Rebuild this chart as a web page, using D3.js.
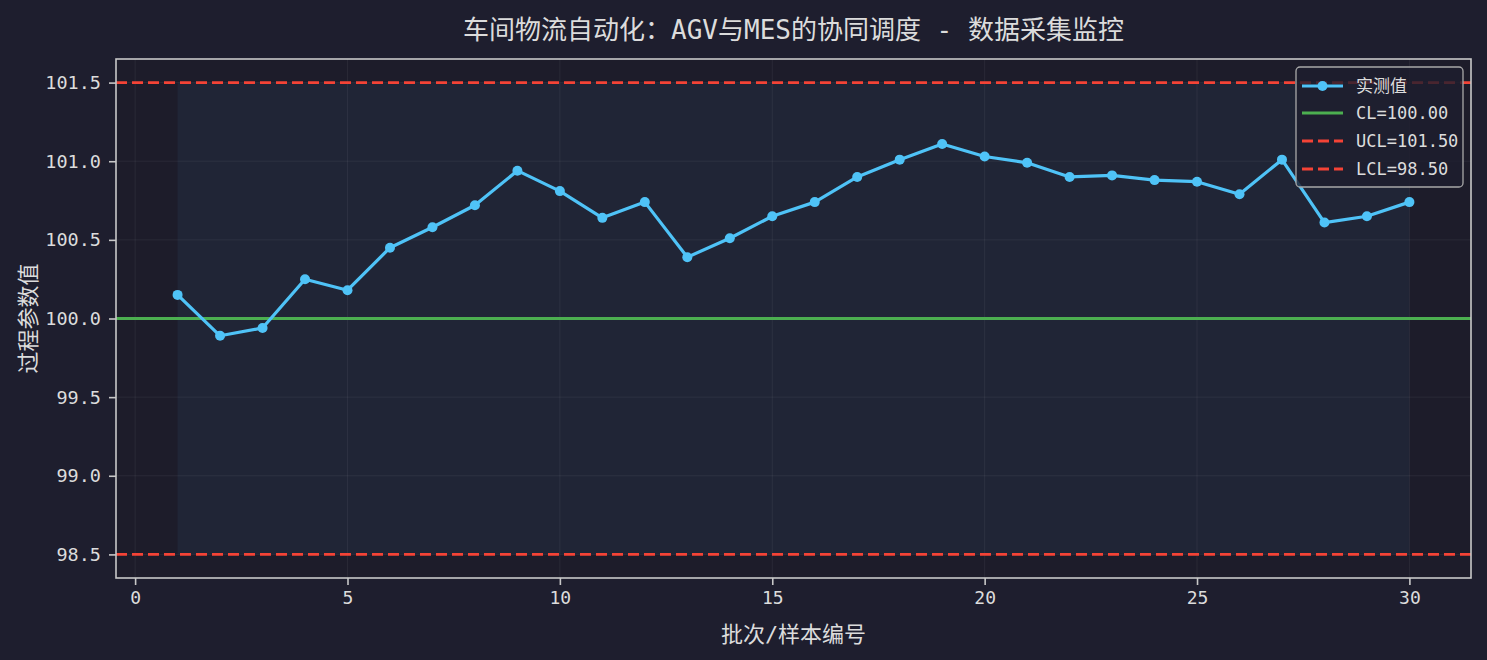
<!DOCTYPE html>
<html>
<head>
<meta charset="utf-8">
<script src="https://cdn.jsdelivr.net/npm/d3@7"></script>
<style>
  html, body { margin: 0; padding: 0; background: #1e1e2e; }
  svg { display: block; }
  text { font-family: "DejaVu Sans Mono", "Noto Sans CJK SC", sans-serif; fill: #dcdcdc; }
</style>
</head>
<body>
<svg id="chart" width="1487" height="660"></svg>
<script>
// batch numbers and measured values
var batches = [1, 2, 3, 4, 5, 6, 7, 8, 9, 10, 11, 12, 13, 14, 15,
               16, 17, 18, 19, 20, 21, 22, 23, 24, 25, 26, 27, 28, 29, 30];
var measured = [100.15, 99.89, 99.94, 100.25, 100.18, 100.45, 100.58, 100.72, 100.94, 100.81,
                100.64, 100.74, 100.39, 100.51, 100.65, 100.74, 100.90, 101.01, 101.11, 101.03,
                100.99, 100.90, 100.91, 100.88, 100.87, 100.79, 101.01, 100.61, 100.65, 100.74];
var limits = { cl: 100.0, ucl: 101.5, lcl: 98.5 };
var xTicks = [0, 5, 10, 15, 20, 25, 30];
var yTicks = [98.5, 99.0, 99.5, 100.0, 100.5, 101.0, 101.5];
var legendLabels = ["实测值", "CL=100.00", "UCL=101.50", "LCL=98.50"];

var W = 1487, H = 660;
var margin = {top: 59, right: 16, bottom: 82, left: 116};
var pLeft = margin.left, pRight = W - margin.right, pTop = margin.top, pBottom = H - margin.bottom;

var svg = d3.select("#chart");

var x = d3.scaleLinear().domain([-0.45, 31.45]).range([pLeft, pRight]);
var y = d3.scaleLinear().domain([98.35, 101.65]).range([pBottom, pTop]);

svg.append("rect").attr("width", W).attr("height", H).attr("fill", "#1e1e2e");
svg.append("rect")
  .attr("x", pLeft).attr("y", pTop)
  .attr("width", pRight - pLeft).attr("height", pBottom - pTop)
  .attr("fill", "#1d1c2a");

// control band between the limits
svg.append("rect")
  .attr("x", x(batches[0])).attr("y", y(limits.ucl))
  .attr("width", x(batches[batches.length - 1]) - x(batches[0]))
  .attr("height", y(limits.lcl) - y(limits.ucl))
  .attr("fill", "#4fc3f7").attr("fill-opacity", 0.06);

// grid
var grid = svg.append("g");
grid.selectAll("line.gx").data(xTicks).enter().append("line")
  .attr("x1", d => x(d)).attr("x2", d => x(d))
  .attr("y1", pTop).attr("y2", pBottom)
  .attr("stroke", "#ffffff").attr("stroke-opacity", 0.06).attr("stroke-width", 1);
grid.selectAll("line.gy").data(yTicks).enter().append("line")
  .attr("x1", pLeft).attr("x2", pRight)
  .attr("y1", d => y(d)).attr("y2", d => y(d))
  .attr("stroke", "#ffffff").attr("stroke-opacity", 0.06).attr("stroke-width", 1);

// limit lines
svg.append("line")
  .attr("x1", pLeft).attr("x2", pRight)
  .attr("y1", y(limits.cl)).attr("y2", y(limits.cl))
  .attr("stroke", "#4caf50").attr("stroke-width", 3);
[limits.ucl, limits.lcl].forEach(function(v) {
  svg.append("line")
    .attr("x1", pLeft).attr("x2", pRight)
    .attr("y1", y(v)).attr("y2", y(v))
    .attr("stroke", "#f44336").attr("stroke-width", 2.9)
    .attr("stroke-dasharray", "11,5");
});

// measured series
var line = d3.line()
  .x((d, i) => x(batches[i]))
  .y(d => y(d));
svg.append("path")
  .datum(measured)
  .attr("fill", "none")
  .attr("stroke", "#4fc3f7")
  .attr("stroke-width", 3.2)
  .attr("stroke-linejoin", "round")
  .attr("d", line);
svg.selectAll("circle.pt").data(measured).enter().append("circle")
  .attr("cx", (d, i) => x(batches[i]))
  .attr("cy", d => y(d))
  .attr("r", 5)
  .attr("fill", "#4fc3f7");

// spines
svg.append("rect")
  .attr("x", pLeft).attr("y", pTop)
  .attr("width", pRight - pLeft).attr("height", pBottom - pTop)
  .attr("fill", "none").attr("stroke", "#c8c8c8").attr("stroke-width", 1.6);

// x axis
var xAxis = d3.axisBottom(x).tickValues(xTicks).tickSize(7).tickPadding(6).tickFormat(d3.format("d"));
var gx = svg.append("g").attr("transform", "translate(0," + pBottom + ")").call(xAxis);
gx.select(".domain").remove();
gx.selectAll(".tick line").attr("stroke", "#c8c8c8").attr("stroke-width", 1.6);
gx.selectAll(".tick text").attr("font-size", 18).attr("fill", "#dcdcdc")
  .attr("font-family", "\"DejaVu Sans Mono\", \"Noto Sans CJK SC\", sans-serif");

// y axis
var yAxis = d3.axisLeft(y).tickValues(yTicks).tickSize(7).tickPadding(8).tickFormat(d3.format(".1f"));
var gy = svg.append("g").attr("transform", "translate(" + pLeft + ",0)").call(yAxis);
gy.select(".domain").remove();
gy.selectAll(".tick line").attr("stroke", "#c8c8c8").attr("stroke-width", 1.6);
gy.selectAll(".tick text").attr("font-size", 18.5).attr("fill", "#dcdcdc")
  .attr("font-family", "\"DejaVu Sans Mono\", \"Noto Sans CJK SC\", sans-serif");

// titles
svg.append("text")
  .attr("x", (pLeft + pRight) / 2).attr("y", 39)
  .attr("text-anchor", "middle").attr("font-size", 26)
  .text("车间物流自动化：AGV与MES的协同调度 - 数据采集监控");
svg.append("text")
  .attr("x", (pLeft + pRight) / 2).attr("y", 642)
  .attr("text-anchor", "middle").attr("font-size", 22)
  .text("批次/样本编号");
svg.append("text")
  .attr("transform", "translate(36," + ((pTop + pBottom) / 2) + ") rotate(-90)")
  .attr("text-anchor", "middle").attr("font-size", 22)
  .text("过程参数值");

// legend
var lg = svg.append("g").attr("transform", "translate(1296,67)");
lg.append("rect")
  .attr("width", 167).attr("height", 120).attr("rx", 4)
  .attr("fill", "#1e1e2e").attr("fill-opacity", 0.8)
  .attr("stroke", "#a8a8a8").attr("stroke-width", 1.3);
var rowY = [19, 46, 74, 102];
var styles = [
  {color: "#4fc3f7", dash: null, w: 3.2, marker: true},
  {color: "#4caf50", dash: null, w: 3, marker: false},
  {color: "#f44336", dash: "11,5", w: 2.9, marker: false},
  {color: "#f44336", dash: "11,5", w: 2.9, marker: false}
];
legendLabels.forEach(function(label, i) {
  var s = styles[i];
  lg.append("line")
    .attr("x1", 6).attr("x2", 47)
    .attr("y1", rowY[i]).attr("y2", rowY[i])
    .attr("stroke", s.color).attr("stroke-width", s.w)
    .attr("stroke-dasharray", s.dash);
  if (s.marker) {
    lg.append("circle").attr("cx", 26.5).attr("cy", rowY[i]).attr("r", 5).attr("fill", s.color);
  }
  lg.append("text")
    .attr("x", 60).attr("y", rowY[i])
    .attr("dominant-baseline", "central")
    .attr("font-size", 17)
    .text(label);
});
</script>
</body>
</html>
